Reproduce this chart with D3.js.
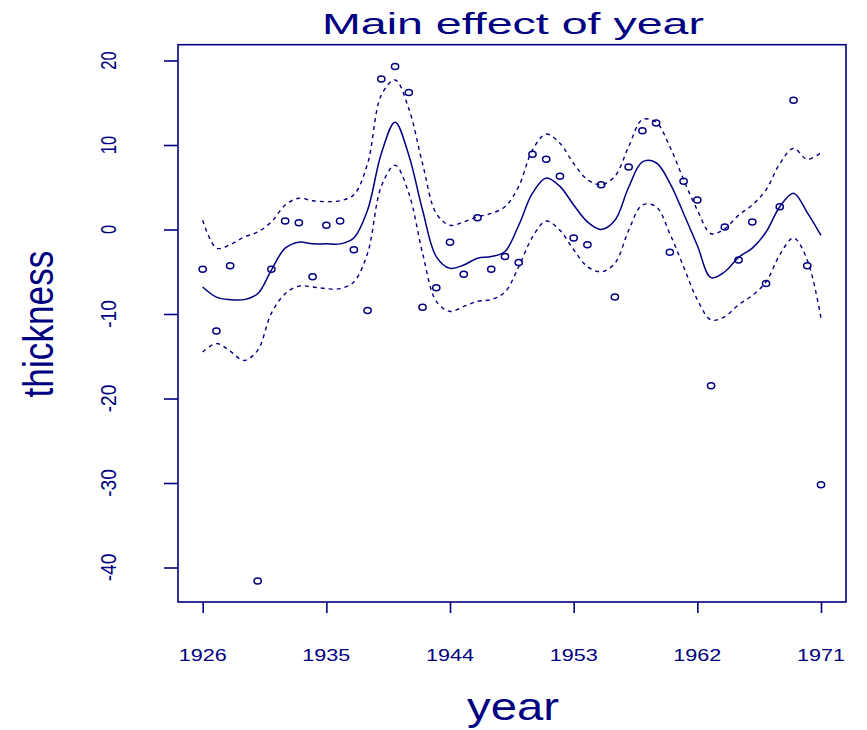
<!DOCTYPE html>
<html>
<head>
<meta charset="utf-8">
<script src="https://cdn.jsdelivr.net/npm/d3@7"></script>
<style>
  html, body { margin: 0; padding: 0; background: #fff; }
  svg { display: block; }
  text { font-family: "Liberation Sans", Arial, Helvetica, sans-serif; fill: #000080; }
</style>
</head>
<body>
<svg id="chart" width="867" height="730"></svg>
<script>
// ---- data ----
const obsYears = [1926,1927,1928,1930,1931,1932,1933,1934,1935,1936,1937,1938,1939,1940,1941,1942,1943,1944,1945,1946,1947,1948,1949,1950,1951,1952,1953,1954,1955,1956,1957,1958,1959,1960,1961,1962,1963,1964,1965,1966,1967,1968,1969,1970,1971];
const obsValues = [-4.7,-12.0,-4.3,-41.6,-4.7,1.0,0.8,-5.6,0.5,1.0,-2.4,-9.6,17.8,19.3,16.2,-9.2,-6.9,-1.5,-5.3,1.4,-4.7,-3.2,-3.9,8.9,8.3,6.3,-1.0,-1.8,5.3,-8.0,7.4,11.7,12.6,-2.7,5.7,3.5,-18.5,0.3,-3.6,0.9,-6.4,2.7,15.3,-4.3,-30.2];

const fitYears = [1926,1927,1928,1929,1930,1931,1932,1933,1934,1935,1936,1937,1938,1939,1940,1941,1942,1943,1944,1945,1946,1947,1948,1949,1950,1951,1952,1953,1954,1955,1956,1957,1958,1959,1960,1961,1962,1963,1964,1965,1966,1967,1968,1969,1970,1971];
const fitValues = [-6.8,-8.0,-8.3,-8.3,-7.6,-4.8,-2.2,-1.5,-1.7,-1.7,-1.7,-1.0,2.3,9.0,12.7,8.8,2.3,-3.2,-4.6,-4.2,-3.4,-3.2,-2.6,0.5,4.3,6.1,5.1,2.9,0.9,0.0,1.1,5.0,8.0,7.9,5.5,1.9,-1.9,-5.7,-5.0,-3.3,-2.2,-0.3,2.7,4.3,2.0,-0.7];
const upperValues = [1.1,-2.2,-1.8,-0.9,-0.3,0.9,2.9,3.7,3.4,3.3,3.4,4.1,7.8,15.9,17.7,14.3,7.8,1.9,0.5,0.9,1.5,1.9,2.7,5.1,9.4,11.3,10.2,7.8,5.9,5.3,6.3,9.8,13.0,12.7,9.8,5.9,2.3,-0.5,0.1,1.7,2.9,4.7,7.8,9.6,8.3,9.1];
const lowerValues = [-14.5,-13.5,-14.4,-15.5,-14.3,-9.9,-7.6,-6.7,-6.8,-7.0,-7.0,-6.2,-2.8,5.1,7.6,4.3,-2.8,-8.5,-9.7,-9.1,-8.5,-8.3,-7.4,-4.4,-0.9,1.0,-0.1,-2.4,-4.4,-5.0,-4.0,-0.1,2.9,2.7,-0.5,-4.4,-8.3,-10.7,-10.3,-8.9,-7.8,-6.2,-3.0,-1.0,-3.6,-10.5];

const xTicks = [1926,1935,1944,1953,1962,1971];
const yTicks = [20,10,0,-10,-20,-30,-40];

const titleText = "Main effect of year";
const xLabel = "year";
const yLabel = "thickness";

// ---- layout ----
const col = "#000080";
const svg = d3.select("#chart");
const box = {left: 178, right: 846, top: 44.7, bottom: 602};

const x = d3.scaleLinear().domain([1926, 1971]).range([202.7, 821]);
const y = d3.scaleLinear().domain([20, -40]).range([60.5, 567.5]);

// box
svg.append("rect")
  .attr("x", box.left).attr("y", box.top)
  .attr("width", box.right - box.left).attr("height", box.bottom - box.top)
  .attr("fill", "none").attr("stroke", col).attr("stroke-width", 1.6);

// x axis
const xAxis = d3.axisBottom(x).tickValues(xTicks).tickSize(11).tickFormat("");
const gx = svg.append("g").attr("transform", `translate(0,${box.bottom})`).call(xAxis);
gx.select(".domain").remove();
gx.selectAll(".tick line").attr("stroke", col).attr("stroke-width", 1.6);
svg.append("g").selectAll("text").data(xTicks).join("text")
  .attr("x", d => x(d)).attr("y", 660.7)
  .attr("text-anchor", "middle")
  .attr("font-size", 17.2)
  .attr("textLength", 48).attr("lengthAdjust", "spacingAndGlyphs")
  .text(d => d);

// y axis
const yAxis = d3.axisLeft(y).tickValues(yTicks).tickSize(14).tickFormat("");
const gy = svg.append("g").attr("transform", `translate(${box.left},0)`).call(yAxis);
gy.select(".domain").remove();
gy.selectAll(".tick line").attr("stroke", col).attr("stroke-width", 1.6);
svg.append("g").selectAll("text").data(yTicks).join("text")
  .attr("transform", d => `translate(115.5,${y(d)}) rotate(-90)`)
  .attr("text-anchor", "middle")
  .attr("font-size", 21.5)
  .attr("textLength", d => String(d).length * 9.2)
  .attr("lengthAdjust", "spacingAndGlyphs")
  .text(d => d);

// lines
const pts = (vals) => fitYears.map((yr, i) => [yr, vals[i]]);
const line = d3.line().x(d => x(d[0])).y(d => y(d[1])).curve(d3.curveCatmullRom.alpha(0.5));

svg.append("path").attr("d", line(pts(fitValues)))
  .attr("fill", "none").attr("stroke", col).attr("stroke-width", 1.5);
[upperValues, lowerValues].forEach(v => {
  svg.append("path").attr("d", line(pts(v)))
    .attr("fill", "none").attr("stroke", col).attr("stroke-width", 1.4)
    .attr("stroke-dasharray", "4,4");
});

// points
svg.append("g").selectAll("ellipse").data(obsYears.map((yr, i) => [yr, obsValues[i]])).join("ellipse")
  .attr("cx", d => x(d[0])).attr("cy", d => y(d[1]))
  .attr("rx", 3.6).attr("ry", 3.0)
  .attr("fill", "none").attr("stroke", col).attr("stroke-width", 1.5);

// titles
svg.append("text").attr("x", 513).attr("y", 34)
  .attr("text-anchor", "middle").attr("font-size", 29)
  .attr("textLength", 382).attr("lengthAdjust", "spacingAndGlyphs")
  .text(titleText);

svg.append("text").attr("x", 513).attr("y", 720)
  .attr("text-anchor", "middle").attr("font-size", 38.5)
  .attr("textLength", 92).attr("lengthAdjust", "spacingAndGlyphs")
  .text(xLabel);

svg.append("text").attr("transform", `translate(53,324) rotate(-90)`)
  .attr("text-anchor", "middle").attr("font-size", 43)
  .attr("textLength", 147).attr("lengthAdjust", "spacingAndGlyphs")
  .text(yLabel);
</script>
</body>
</html>
